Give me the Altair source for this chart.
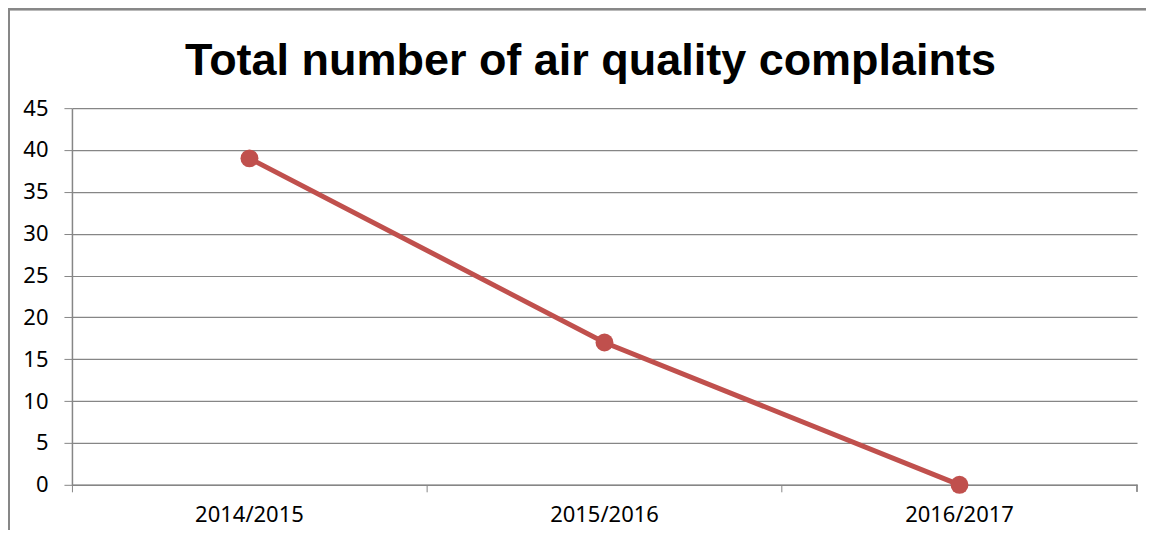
import altair as alt
import pandas as pd

seasons = ["2014/2015", "2015/2016", "2016/2017"]
complaints = [39, 17, 0]
y_ticks = [0, 5, 10, 15, 20, 25, 30, 35, 40, 45]

df = pd.DataFrame({"season": seasons, "complaints": complaints})

W, H = 1066, 377
RED = "#C0504D"
GRID = "#868686"
FONT = "Noto Sans"

border = alt.Chart(df).mark_rect(fillOpacity=0, fill="#ffffff", stroke="#878787",
                                 strokeWidth=2, clip=False).encode(
    x=alt.value(-63), x2=alt.value(1090), y=alt.value(-99), y2=alt.value(480)
)

xs = alt.X("season:N", sort=seasons, bandPosition=0.5,
           scale=alt.Scale(type="band", paddingInner=0, paddingOuter=0),
           axis=alt.Axis(title=None, bandPosition=0, labelAngle=0,
                         labelFont=FONT, labelFontSize=22, labelColor="#000000",
                         labelPadding=13, tickSize=7, tickColor=GRID, domainColor=GRID,
                         domainWidth=1.5, grid=False))
ys = alt.Y("complaints:Q", scale=alt.Scale(domain=[0, 45], nice=False),
           axis=alt.Axis(title=None, values=y_ticks, labelFont=FONT, labelFontSize=22,
                         labelColor="#000000", labelPadding=16, tickSize=8,
                         tickColor=GRID, domainColor=GRID, domainWidth=1.5,
                         gridColor=GRID, gridWidth=1.2))

line = alt.Chart(df).mark_line(color=RED, strokeWidth=5).encode(x=xs, y=ys)
pts = alt.Chart(df).mark_circle(color=RED, size=320, opacity=1).encode(x=xs, y=ys)

end_tick = alt.Chart(df).mark_rule(color=GRID, strokeWidth=1).encode(
    x=alt.value(W), y=alt.value(H), y2=alt.value(H + 7)
)

chart = alt.layer(border, line, pts, end_tick).properties(
    width=W, height=H,
    title=alt.TitleParams("Total number of air quality complaints", font="Liberation Sans",
                          fontSize=45, fontWeight="bold", color="#000000",
                          anchor="middle", baseline="alphabetic", offset=0, dx=-14, dy=112),
    autosize=alt.AutoSizeParams(type="none"),
    padding={"left": 64, "top": 100, "right": 9, "bottom": 45},
).configure_view(stroke=None)

chart.save("out.html", embed_options={"renderer": "svg", "actions": False})
